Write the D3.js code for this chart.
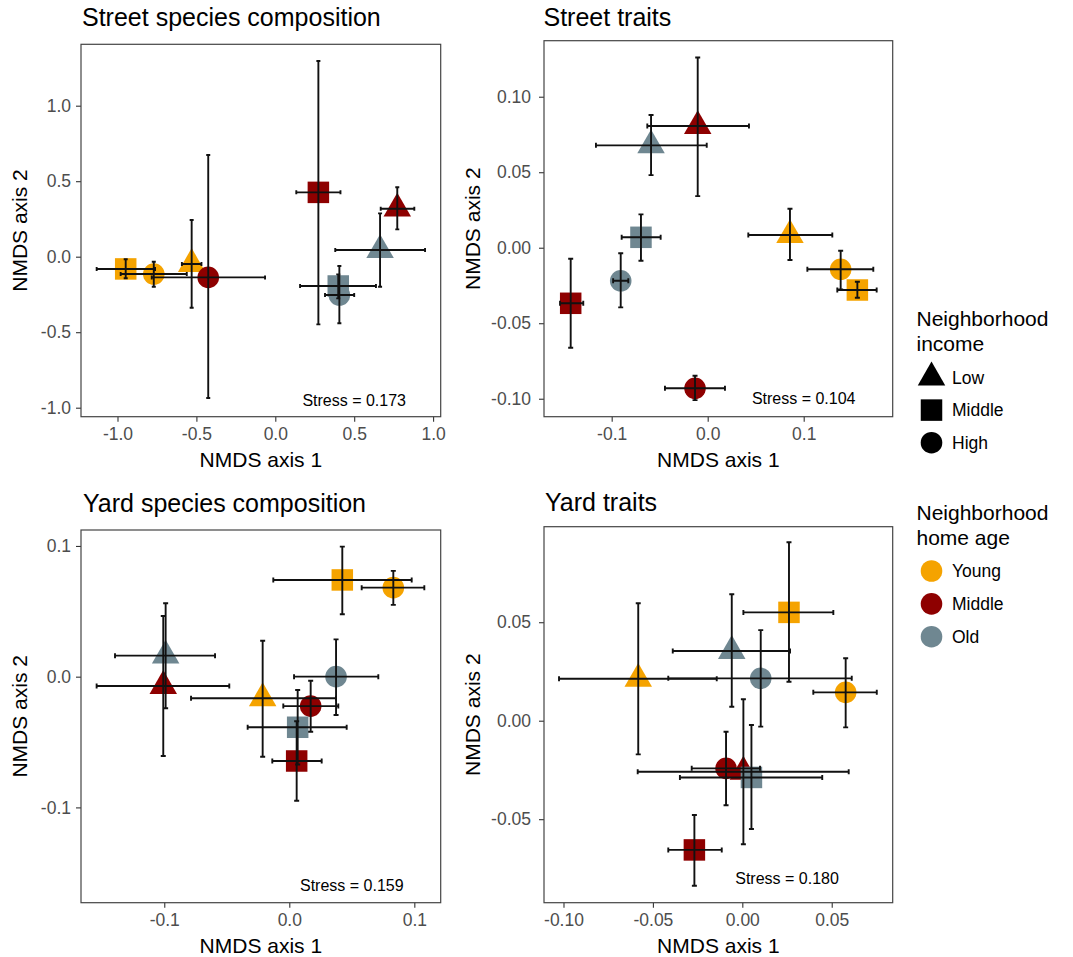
<!DOCTYPE html>
<html><head><meta charset="utf-8">
<script src="https://cdn.jsdelivr.net/npm/d3@7"></script>
<style>body{margin:0;background:#fff;} text{font-family:"Liberation Sans",Arial,Helvetica,sans-serif;}</style>
</head><body>
<svg id="c" width="1073" height="957"></svg>
<script>
// ---------- data ----------
const ageLevels = ["Young", "Middle", "Old"];
const ageColors = ["#F5A300", "#8E0000", "#6F8791"];
const incomeLevels = ["Low", "Middle", "High"];
const incomeShapes = ["triangle", "square", "circle"];

// rows: [home age, income, x, y, xmin, xmax, ymin, ymax]
const streetSpecies = [
  ["Young",  "Low",    -0.530, -0.048, -0.592, -0.468,  0.243, -0.338],
  ["Middle", "Low",     0.773,  0.318,  0.668,  0.881,  0.460,  0.181],
  ["Old",    "Low",     0.664,  0.044,  0.380,  0.949,  0.287, -0.199],
  ["Young",  "High",   -0.770, -0.115, -0.980, -0.561, -0.033, -0.199],
  ["Middle", "High",   -0.425, -0.137, -0.783, -0.065,  0.673, -0.936],
  ["Old",    "High",    0.406, -0.254,  0.315,  0.500, -0.062, -0.441],
  ["Young",  "Middle", -0.948, -0.081, -1.132, -0.762, -0.017, -0.143],
  ["Middle", "Middle",  0.273,  0.426,  0.133,  0.413,  1.296, -0.448],
  ["Old",    "Middle",  0.399, -0.194,  0.157,  0.638, -0.117, -0.276]
];
const streetTraits = [
  ["Young",  "Low",     0.0857,  0.0084,  0.0423,  0.1298,  0.0258, -0.0081],
  ["Middle", "Low",    -0.0104,  0.0806, -0.0629,  0.0430,  0.1260,  0.0342],
  ["Old",    "Low",    -0.0590,  0.0678, -0.1164, -0.0010,  0.0879,  0.0481],
  ["Young",  "High",    0.1385, -0.0143,  0.1038,  0.1725, -0.0020, -0.0276],
  ["Middle", "High",   -0.0132, -0.0931, -0.0445,  0.0180, -0.0848, -0.1009],
  ["Old",    "High",   -0.0906, -0.0219, -0.0985, -0.0827, -0.0037, -0.0395],
  ["Young",  "Middle",  0.1559, -0.0280,  0.1350,  0.1760, -0.0225, -0.0331],
  ["Middle", "Middle", -0.1427, -0.0368, -0.1538, -0.1296, -0.0073, -0.0662],
  ["Old",    "Middle", -0.0695,  0.0069, -0.0896, -0.0490,  0.0221, -0.0086]
];
const yardSpecies = [
  ["Young",  "Low",    -0.0213, -0.0165, -0.0786,  0.0374,  0.0275, -0.0612],
  ["Middle", "Low",    -0.1008, -0.0071, -0.1541, -0.0480,  0.0464, -0.0607],
  ["Old",    "Low",    -0.0989,  0.0161, -0.1394, -0.0594,  0.0562, -0.0242],
  ["Young",  "High",    0.0832,  0.0681,  0.0579,  0.1080,  0.0809,  0.0549],
  ["Middle", "High",    0.0171, -0.0225, -0.0048,  0.0392, -0.0031, -0.0421],
  ["Old",    "High",    0.0374,  0.0000,  0.0038,  0.0712,  0.0285, -0.0293],
  ["Young",  "Middle",  0.0424,  0.0740, -0.0128,  0.0979,  0.0995,  0.0477],
  ["Middle", "Middle",  0.0059, -0.0645, -0.0136,  0.0259, -0.0341, -0.0949],
  ["Old",    "Middle",  0.0067, -0.0387, -0.0333,  0.0459, -0.0102, -0.0672]
];
const yardTraits = [
  ["Young",  "Low",    -0.0582,  0.0213, -0.1025, -0.0143,  0.0596, -0.0171],
  ["Middle", "Low",     0.0006, -0.0259, -0.0585,  0.0595,  0.0109, -0.0627],
  ["Old",    "Low",    -0.0059,  0.0354, -0.0389,  0.0267,  0.0642,  0.0071],
  ["Young",  "High",    0.0578,  0.0144,  0.0397,  0.0752,  0.0317, -0.0034],
  ["Middle", "High",   -0.0091, -0.0242, -0.0283,  0.0099, -0.0056, -0.0429],
  ["Old",    "High",    0.0103,  0.0215, -0.0414,  0.0612,  0.0460, -0.0030],
  ["Young",  "Middle",  0.0261,  0.0550,  0.0006,  0.0509,  0.0906,  0.0198],
  ["Middle", "Middle", -0.0268, -0.0656, -0.0414, -0.0115, -0.0479, -0.0838],
  ["Old",    "Middle",  0.0051, -0.0288, -0.0349,  0.0447, -0.0022, -0.0550]
];

const panelTitles = ["Street species composition", "Street traits", "Yard species composition", "Yard traits"];
const stressLabels = ["Stress = 0.173", "Stress = 0.104", "Stress = 0.159", "Stress = 0.180"];
const stressAt = [[0.5, -0.95], [0.1, -0.1], [0.05, -0.16], [0.025, -0.08]];
const xLimits = [[-1.2313, 1.0482], [-0.1705, 0.1927], [-0.1666, 0.1211], [-0.1109, 0.0841]];
const yLimits = [[-1.0596, 1.4066], [-0.1119, 0.1371], [-0.1729, 0.1122], [-0.0924, 0.0985]];
const xTicks = [[-1.0, -0.5, 0.0, 0.5, 1.0], [-0.1, 0.0, 0.1], [-0.1, 0.0, 0.1], [-0.10, -0.05, 0.00, 0.05]];
const yTicks = [[-1.0, -0.5, 0.0, 0.5, 1.0], [-0.10, -0.05, 0.00, 0.05, 0.10], [-0.1, 0.0, 0.1], [-0.05, 0.00, 0.05]];
const xTickFmt = [".1f", ".1f", ".1f", ".2f"];
const yTickFmt = [".1f", ".2f", ".1f", ".2f"];
const xAxisTitle = "NMDS axis 1";
const yAxisTitle = "NMDS axis 2";
const legendTitles = [["Neighborhood", "income"], ["Neighborhood", "home age"]];

// ---------- layout ----------
const panelData = [streetSpecies, streetTraits, yardSpecies, yardTraits];
const boxes = [
  {l: 81, r: 440.7, t: 44.3, b: 416.7, ylab: 26.7, ypad: 5, cap: 4},
  {l: 544, r: 892.7, t: 40.7, b: 416.7, ylab: 480, ypad: 8, cap: 5},
  {l: 81, r: 440.7, t: 530, b: 902.7, ylab: 26.7, ypad: 5, cap: 5},
  {l: 544, r: 892.7, t: 526.7, b: 902.7, ylab: 480, ypad: 8, cap: 5}
];
const titlePos = [[82, 26], [543.5, 25.5], [83, 511.5], [545, 511]];

const svg = d3.select("#c");
const locale = d3.formatLocale({decimal: ".", thousands: ",", grouping: [3], currency: ["", ""], minus: "-"});
const color = d3.scaleOrdinal().domain(ageLevels).range(ageColors);
const shapeOf = d3.scaleOrdinal().domain(incomeLevels).range(incomeShapes);

const SQ = 21.5, CR = 10.8, TS = 27.5;
function drawShape(g, shape, fill) {
  if (shape === "square") {
    g.append("rect").attr("x", -SQ / 2).attr("y", -SQ / 2).attr("width", SQ).attr("height", SQ).attr("fill", fill);
  } else if (shape === "circle") {
    g.append("circle").attr("r", CR).attr("fill", fill);
  } else {
    const h = TS * Math.sqrt(3) / 2;
    g.append("path").attr("d", `M0,${-2 * h / 3}L${TS / 2},${h / 3}L${-TS / 2},${h / 3}Z`).attr("fill", fill);
  }
}
const shapeOrder = {"Low": 0, "High": 1, "Middle": 2};

panelData.forEach((rows, i) => {
  const B = boxes[i];
  const x = d3.scaleLinear().domain(xLimits[i]).range([B.l, B.r]);
  const y = d3.scaleLinear().domain(yLimits[i]).range([B.b, B.t]);
  const g = svg.append("g");

  // title
  g.append("text").attr("x", titlePos[i][0]).attr("y", titlePos[i][1])
    .attr("font-size", 25).attr("fill", "#000").text(panelTitles[i]);

  // axes
  const xa = g.append("g").attr("transform", `translate(0,${B.b})`)
    .call(d3.axisBottom(x).tickValues(xTicks[i]).tickFormat(locale.format(xTickFmt[i])).tickSize(5).tickPadding(6));
  const ya = g.append("g").attr("transform", `translate(${B.l},0)`)
    .call(d3.axisLeft(y).tickValues(yTicks[i]).tickFormat(locale.format(yTickFmt[i])).tickSize(5).tickPadding(B.ypad));
  [xa, ya].forEach(a => {
    a.select(".domain").remove();
    a.selectAll(".tick line").attr("stroke", "#333").attr("stroke-width", 1.1);
    a.selectAll(".tick text").attr("font-size", 17.5).attr("fill", "#4d4d4d")
      .attr("font-family", "Liberation Sans, Arial, sans-serif");
  });

  // panel border
  g.append("rect").attr("x", B.l).attr("y", B.t).attr("width", B.r - B.l).attr("height", B.b - B.t)
    .attr("fill", "none").attr("stroke", "#444").attr("stroke-width", 1.2);

  // axis titles
  g.append("text").attr("x", (B.l + B.r) / 2).attr("y", B.b + 50).attr("text-anchor", "middle")
    .attr("font-size", 21).attr("fill", "#000").text(xAxisTitle);
  g.append("text").attr("transform", `translate(${B.ylab},${(B.t + B.b) / 2}) rotate(-90)`)
    .attr("text-anchor", "middle").attr("font-size", 21).attr("fill", "#000").text(yAxisTitle);

  // points
  const sorted = rows.slice().sort((a, b) => shapeOrder[a[1]] - shapeOrder[b[1]]);
  const clip = "clip" + i;
  svg.append("clipPath").attr("id", clip).append("rect")
    .attr("x", B.l).attr("y", B.t).attr("width", B.r - B.l).attr("height", B.b - B.t);
  const pg = g.append("g").attr("clip-path", `url(#${clip})`);
  sorted.forEach(d => {
    const s = pg.append("g").attr("transform", `translate(${x(d[2])},${y(d[3])})`);
    drawShape(s, shapeOf(d[1]), color(d[0]));
  });

  // error bars on top
  const eg = pg.append("g").attr("stroke", "#111").attr("stroke-width", 1.9).attr("fill", "none");
  sorted.forEach(d => {
    const cx = x(d[2]), cy = y(d[3]);
    const x0 = x(d[4]), x1 = x(d[5]), y0 = y(d[6]), y1 = y(d[7]);
    const c = B.cap / 2;
    eg.append("path").attr("d",
      `M${x0},${cy}H${x1}M${x0},${cy - c}V${cy + c}M${x1},${cy - c}V${cy + c}` +
      `M${cx},${y0}V${y1}M${cx - c},${y0}H${cx + c}M${cx - c},${y1}H${cx + c}`);
  });

  // stress annotation
  g.append("text").attr("x", x(stressAt[i][0])).attr("y", y(stressAt[i][1]))
    .attr("text-anchor", "middle").attr("dominant-baseline", "central")
    .attr("font-size", 16).attr("fill", "#000").text(stressLabels[i]);
});

// ---------- legends ----------
const lg = svg.append("g");
const legendTop = [326, 520];
legendTitles.forEach((lines, k) => {
  lines.forEach((t, j) => {
    lg.append("text").attr("x", 916.5).attr("y", legendTop[k] + j * 25)
      .attr("font-size", 21).attr("fill", "#000").text(t);
  });
});
const incomeKeyY = d3.scalePoint().domain(incomeLevels).range([377.5, 442.7]);
incomeLevels.forEach(lv => {
  const s = lg.append("g").attr("transform", `translate(931.5,${incomeKeyY(lv)})`);
  drawShape(s, shapeOf(lv), "#000");
  lg.append("text").attr("x", 952).attr("y", incomeKeyY(lv)).attr("dominant-baseline", "central")
    .attr("font-size", 17.5).attr("fill", "#000").text(lv);
});
const ageKeyY = d3.scalePoint().domain(ageLevels).range([571, 636.7]);
ageLevels.forEach(lv => {
  const s = lg.append("g").attr("transform", `translate(931.5,${ageKeyY(lv)})`);
  drawShape(s, "circle", color(lv));
  lg.append("text").attr("x", 952).attr("y", ageKeyY(lv)).attr("dominant-baseline", "central")
    .attr("font-size", 17.5).attr("fill", "#000").text(lv);
});
</script>
</body></html>
